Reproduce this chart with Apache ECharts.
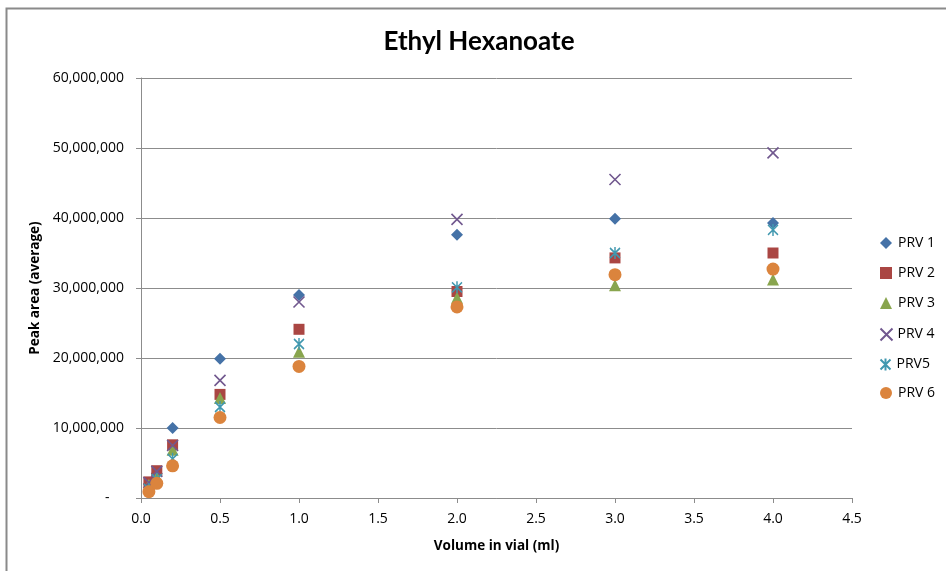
<!DOCTYPE html>
<html>
<head>
<meta charset="utf-8">
<title>Ethyl Hexanoate</title>
<script src="https://cdn.jsdelivr.net/npm/echarts@6/dist/echarts.min.js"></script>
<style>
  html, body { margin: 0; padding: 0; background: #fff; }
  #chart { width: 946px; height: 571px; }
</style>
</head>
<body>
<div id="chart"></div>
<script>
// Sample volumes (ml) shared by every series
const volumes = [0.05, 0.1, 0.2, 0.5, 1.0, 2.0, 3.0, 4.0];

// Average peak areas for each PRV sample
const prv1 = [2000000, 3500000, 10000000, 19900000, 29000000, 37600000, 39900000, 39300000];
const prv2 = [2300000, 3900000, 7600000, 14800000, 24100000, 29500000, 34300000, 35000000];
const prv3 = [1900000, 3000000, 6900000, 14300000, 20900000, 28600000, 30400000, 31200000];
const prv4 = [2200000, 3800000, 7500000, 16800000, 28000000, 39800000, 45500000, 49300000];
const prv5 = [1300000, 2700000, 5600000, 13000000, 22000000, 30100000, 35000000, 38300000];
const prv6 = [900000, 2100000, 4600000, 11500000, 18800000, 27300000, 31900000, 32700000];

const seriesNames = ['PRV 1', 'PRV 2', 'PRV 3', 'PRV 4', 'PRV5', 'PRV 6'];
const yTicks = [0, 10000000, 20000000, 30000000, 40000000, 50000000, 60000000];
const xTicks = [0, 0.5, 1.0, 1.5, 2.0, 2.5, 3.0, 3.5, 4.0, 4.5];

const FONT = '"Open Sans", "Liberation Sans", sans-serif';
const TITLE_FONT = 'Lato, "Open Sans", sans-serif';
const GRID_GRAY = '#8c8c8c';

const pairs = vals => volumes.map((v, i) => [v, vals[i]]);

const crossPath = 'path://M0,0L10,10M10,0L0,10';
const starPath = 'path://M0,1L10,11M10,1L0,11M5,0L5,12';

const styles = [
  { symbol: 'diamond', size: 12, color: '#4572A7' },
  { symbol: 'rect', size: 11, color: '#AA4643' },
  { symbol: 'triangle', size: 12, color: '#89A54E' },
  { symbol: crossPath, size: 11, color: '#71588F', line: true },
  { symbol: starPath, size: [10, 12], color: '#4198AF', line: true },
  { symbol: 'circle', size: 13, color: '#DB843D' }
];

const data = [prv1, prv2, prv3, prv4, prv5, prv6];

const series = data.map((vals, i) => {
  const s = styles[i];
  return {
    name: seriesNames[i],
    type: 'scatter',
    data: pairs(vals),
    symbol: s.symbol,
    symbolSize: s.size,
    itemStyle: s.line
      ? { color: 'none', borderColor: s.color, borderWidth: 1.6, opacity: 1 }
      : { color: s.color, borderWidth: 0, opacity: 1 },
    emphasis: { disabled: true },
    z: 2 + i
  };
});

// One legend block per series so the rows stay evenly spaced
const legends = seriesNames.map((name, i) => ({
  orient: 'vertical',
  left: styles[i].line ? 878 : 880,
  top: 236 + i * 30,
  padding: 0,
  itemWidth: 12,
  itemHeight: 12,
  selectedMode: false,
  textStyle: {
    fontFamily: FONT, fontSize: 14, color: '#000',
    padding: [0, 0, 0, styles[i].line ? 0 : 1]
  },
  data: [name]
}));

const chart = echarts.init(document.getElementById('chart'), null, { renderer: 'canvas' });

chart.setOption({
  animation: false,
  backgroundColor: '#fff',
  title: {
    text: 'Ethyl Hexanoate',
    left: 474,
    top: 24,
    textAlign: 'center',
    textStyle: { fontFamily: TITLE_FONT, fontSize: 26, fontWeight: 'bold', color: '#000' }
  },
  grid: { left: 141, right: 94, top: 78, bottom: 73 },
  legend: legends,
  xAxis: {
    type: 'value',
    min: 0,
    max: 4.5,
    interval: 0.5,
    name: 'Volume in vial (ml)',
    nameLocation: 'middle',
    nameGap: 41,
    nameTextStyle: { fontFamily: FONT, fontSize: 13.5, fontWeight: 'bold', color: '#000' },
    axisLine: { show: true, lineStyle: { color: GRID_GRAY, width: 1 } },
    axisTick: { show: true, inside: false, length: 5, lineStyle: { color: GRID_GRAY } },
    axisLabel: {
      fontFamily: FONT, fontSize: 14, color: '#000', margin: 14,
      formatter: v => xTicks.includes(v) ? v.toFixed(1) : ''
    },
    splitLine: { show: false }
  },
  yAxis: {
    type: 'value',
    min: 0,
    max: 60000000,
    interval: 10000000,
    name: 'Peak area (average)',
    nameLocation: 'middle',
    nameGap: 96,
    nameTextStyle: { fontFamily: FONT, fontSize: 13.5, fontWeight: 'bold', color: '#000' },
    axisLine: { show: true, lineStyle: { color: GRID_GRAY, width: 1 } },
    axisTick: { show: true, inside: false, length: 5, lineStyle: { color: GRID_GRAY } },
    axisLabel: {
      fontFamily: FONT, fontSize: 14, color: '#000', margin: 17,
      formatter: v => {
        if (!yTicks.includes(v)) return '';
        return v === 0 ? '-    ' : v.toLocaleString('en-US');
      }
    },
    splitLine: { show: true, lineStyle: { color: GRID_GRAY, width: 1 } }
  },
  graphic: [
    {
      type: 'polyline',
      shape: { points: [[6.5, 571], [6.5, 8.5], [946, 8.5]] },
      style: { stroke: '#8a8a8a', lineWidth: 2, fill: null },
      silent: true
    }
  ],
  series: series
});
</script>
</body>
</html>
